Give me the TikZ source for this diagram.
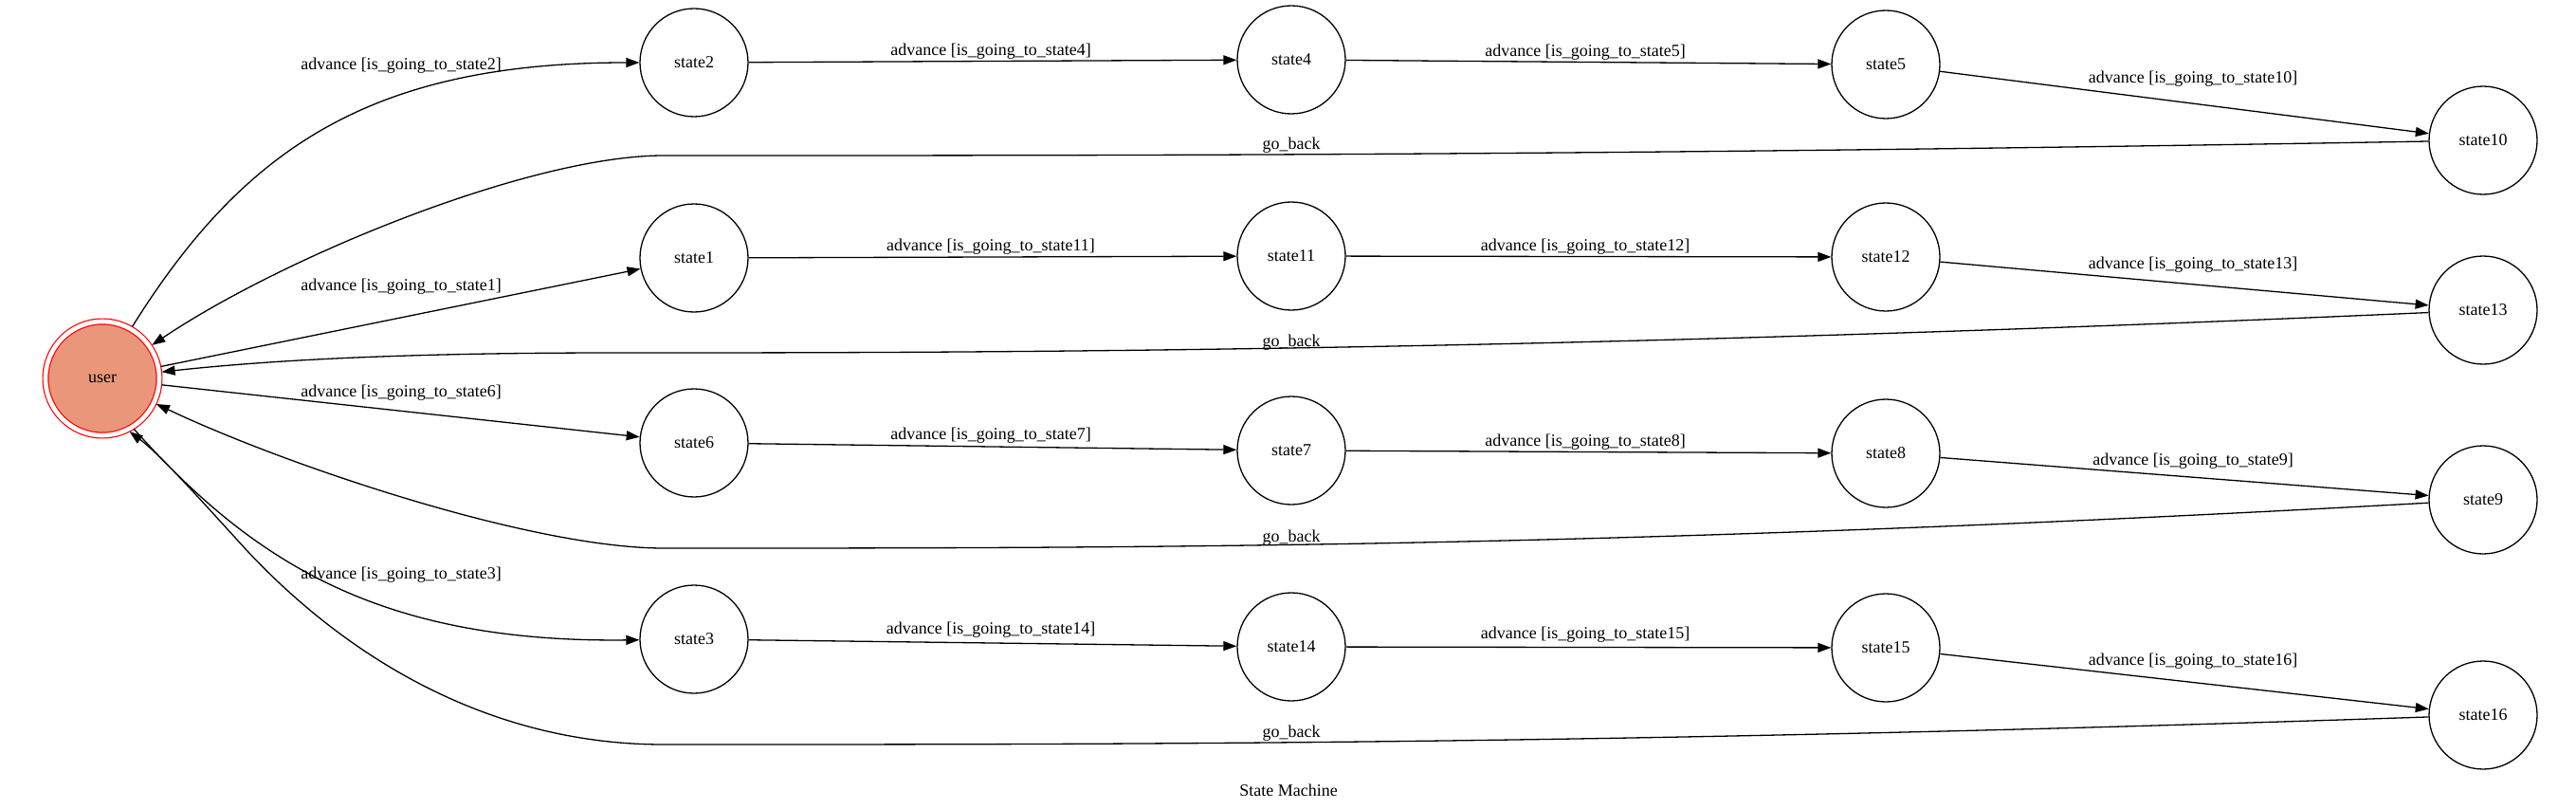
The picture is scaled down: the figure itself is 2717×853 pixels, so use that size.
\documentclass[tikz,border=0pt]{standalone}
\usepackage{fontspec}
\setmainfont{Liberation Serif}
\usetikzlibrary{arrows.meta}
\definecolor{darksalmon}{HTML}{E9967A}
\begin{document}
\begin{tikzpicture}[x=1pt,y=-1pt,
  every node/.style={font=\fontsize{18}{21}\selectfont},
  st/.style={circle,draw,line width=1.3pt,minimum size=114pt,inner sep=0pt},
  lbl/.style={inner sep=0pt},
  edge/.style={line width=1.3pt,-{Triangle[length=14pt,width=10pt]}},
]
\useasboundingbox (0,0) rectangle (2717,853);
% nodes
\node[circle,minimum size=120pt,inner sep=0pt,fill=darksalmon,draw=red,line width=1.2pt,double=white,double distance=4.6pt,outer sep=3pt] (user) at (108,399) {user};
\node[st] (state2) at (732,66) {state2};
\node[st] (state4) at (1362,63) {state4};
\node[st] (state5) at (1989,68) {state5};
\node[st] (state10) at (2619,148) {state10};
\node[st] (state1) at (732,272) {state1};
\node[st] (state11) at (1362,270) {state11};
\node[st] (state12) at (1989,271) {state12};
\node[st] (state13) at (2619,327) {state13};
\node[st] (state6) at (732,467) {state6};
\node[st] (state7) at (1362,475) {state7};
\node[st] (state8) at (1989,478) {state8};
\node[st] (state9) at (2619,527) {state9};
\node[st] (state3) at (732,674) {state3};
\node[st] (state14) at (1362,682) {state14};
\node[st] (state15) at (1989,683) {state15};
\node[st] (state16) at (2619,754) {state16};
% edges from user
\draw[edge] (user.60) .. controls (256,158) and (390,66) .. (state2);
\draw[edge] (user) -- (state1);
\draw[edge] (user) -- (state6);
\draw[edge] (user.302) .. controls (266,592) and (400,678) .. (state3);
% forward chains
\draw[edge] (state2) -- (state4);
\draw[edge] (state4) -- (state5);
\draw[edge] (state5) -- (state10);
\draw[edge] (state1) -- (state11);
\draw[edge] (state11) -- (state12);
\draw[edge] (state12) -- (state13);
\draw[edge] (state6) -- (state7);
\draw[edge] (state7) -- (state8);
\draw[edge] (state8) -- (state9);
\draw[edge] (state3) -- (state14);
\draw[edge] (state14) -- (state15);
\draw[edge] (state15) -- (state16);
% go_back edges
\coordinate (g10) at (700,164);
\coordinate (g13) at (650,372);
\coordinate (g9) at (700,578);
\coordinate (g16) at (700,785);
\coordinate (m16) at (260,580);
\draw[edge] (state10) .. controls (1700,164) and (1200,164) .. (g10) .. controls (560,164) and (300,270) .. (user);
\draw[edge] (state13) .. controls (1600,372) and (1000,372) .. (g13) .. controls (450,372) and (300,378) .. (user);
\draw[edge] (state9) .. controls (1700,578) and (1200,578) .. (g9) .. controls (560,578) and (300,490) .. (user);
\draw[edge] (state16) .. controls (1700,785) and (1200,785) .. (g16) .. controls (480,785) and (330,655) .. (m16) .. controls (216,532) and (170,480) .. (user.297);
% labels
\node[lbl] (l2) at (423,69) {advance [is\_going\_to\_state2]};
\node[lbl] (l4) at (1045,54) {advance [is\_going\_to\_state4]};
\node[lbl] (l5) at (1672,55) {advance [is\_going\_to\_state5]};
\node[lbl] (l10) at (2313,83) {advance [is\_going\_to\_state10]};
\node[lbl] (l1) at (423,302) {advance [is\_going\_to\_state1]};
\node[lbl] (l11) at (1045,260) {advance [is\_going\_to\_state11]};
\node[lbl] (l12) at (1672,260) {advance [is\_going\_to\_state12]};
\node[lbl] (l13) at (2313,279) {advance [is\_going\_to\_state13]};
\node[lbl] (l6) at (423,414) {advance [is\_going\_to\_state6]};
\node[lbl] (l7) at (1045,459) {advance [is\_going\_to\_state7]};
\node[lbl] (l8) at (1672,466) {advance [is\_going\_to\_state8]};
\node[lbl] (l9) at (2313,486) {advance [is\_going\_to\_state9]};
\node[lbl] (l3) at (423,606) {advance [is\_going\_to\_state3]};
\node[lbl] (l14) at (1045,664) {advance [is\_going\_to\_state14]};
\node[lbl] (l15) at (1672,669) {advance [is\_going\_to\_state15]};
\node[lbl] (l16) at (2313,697) {advance [is\_going\_to\_state16]};
\node[lbl] (gb10) at (1362,153) {go\_back};
\node[lbl] (gb13) at (1362,361) {go\_back};
\node[lbl] (gb9) at (1362,567) {go\_back};
\node[lbl] (gb16) at (1362,773) {go\_back};
\node[lbl] (title) at (1359,833) {State Machine};
\end{tikzpicture}
\end{document}
